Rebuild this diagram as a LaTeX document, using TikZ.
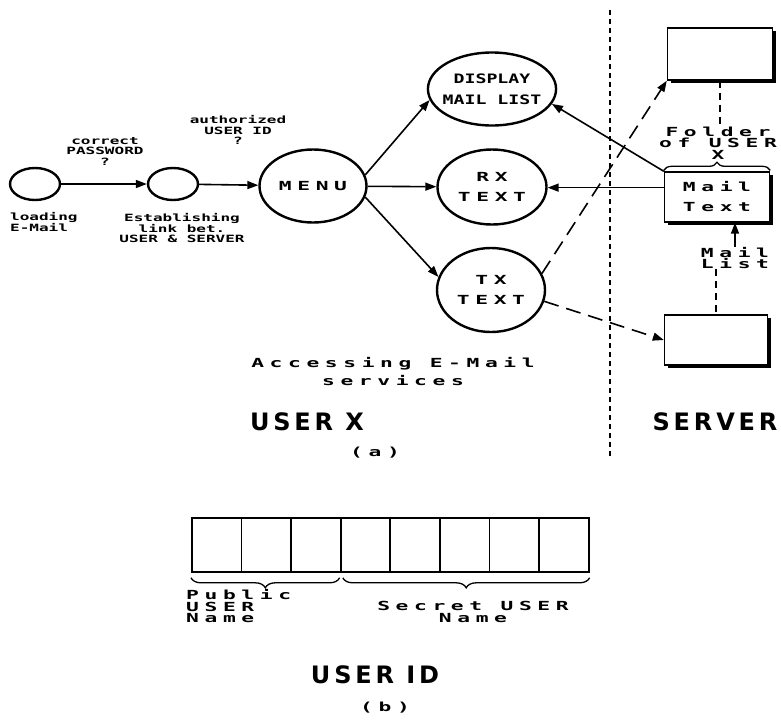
\documentclass[tikz,border=0pt]{standalone}
\usepackage{fontspec}
\usepackage{tikz}
\usetikzlibrary{arrows.meta, shapes.geometric, shadows, decorations.pathreplacing}
\newfontfamily\smallpix[FakeStretch=1.6]{DejaVu Sans Mono Bold}
\newfontfamily\widepix[FakeStretch=1.7, LetterSpace=45]{DejaVu Sans Mono Bold}
\newfontfamily\disppix[FakeStretch=1.4]{DejaVu Sans Mono Bold}
\newfontfamily\titlepix[LetterSpace=16]{DejaVu Sans Bold}
\newcommand{\notefont}{\smallpix\fontsize{10}{10.5}\selectfont}
\newcommand{\widefont}{\widepix\fontsize{12.5}{11.5}\selectfont}
\newcommand{\wideloose}{\widepix\fontsize{12.5}{20}\selectfont}
\newcommand{\dispfont}{\disppix\fontsize{13}{21}\selectfont}
\newcommand{\titlefont}{\titlepix\fontsize{24}{26}\selectfont}
\tikzstyle{state} = [ellipse, 
draw=black, 
line width=2.4pt, 
inner sep=-4pt, 
align=center, 
font=\wideloose]
\tikzstyle{mailbox} = [rectangle, 
draw=black, 
line width=1.4pt, 
fill=white, 
align=center, 
drop shadow={shadow xshift=3pt, shadow yshift=-3pt, fill=black, opacity=1}]
\tikzstyle{cell} = [rectangle, 
minimum width=49.6pt, 
minimum height=54pt, 
inner sep=0pt, 
draw=black, 
line width=1.8pt]
\tikzstyle{note} = [align=center, inner sep=0pt, font=\notefont]
\tikzstyle{widenote} = [align=center, inner sep=0pt, font=\widefont]
\tikzstyle{title} = [inner sep=0pt, font=\titlefont]
\tikzstyle{arrow} = [line width=1.6pt, -{Triangle[length=11pt, width=8pt]}]
\tikzstyle{dasharrow} = [arrow, dash pattern=on 15pt off 8pt]
\tikzstyle{linkline} = [line width=1.5pt, dash pattern=on 7pt off 5pt]
\tikzstyle{sepline} = [line width=1.8pt, dash pattern=on 5pt off 4pt]
\tikzstyle{bracetop} = [decorate, decoration={brace, amplitude=8pt}, line width=1.3pt]
\tikzstyle{bracebot} = [decorate, decoration={brace, amplitude=10pt}, line width=1.3pt]

\begin{document}
\begin{tikzpicture}[x=1pt, y=-1pt]
    \useasboundingbox (0,0) rectangle (781,721);

    % (a) lado del usuario
    \node (load) [state, minimum width=50pt, minimum height=32pt] at (35,184) {};
    \node (link) [state, minimum width=50pt, minimum height=32pt] at (173,184) {};
    \node (menu) [state, minimum width=107pt, minimum height=73pt] at (313,186) {MENU};
    \node (display) [state, minimum width=110pt, minimum height=73pt, font=\dispfont] at (492,89) {DISPLAY\\MAIL LIST};
    \node (rx) [state, minimum width=109pt, minimum height=75pt] at (492,187) {RX\\TEXT};
    \node (tx) [state, minimum width=108pt, minimum height=84pt] at (491,290) {TX\\TEXT};

    \node (pwdlbl) [note] at (105,151) {correct\\PASSWORD\\?};
    \node (authlbl) [note] at (238,130) {authorized\\USER ID\\?};
    \node (loadlbl) [note, align=left, anchor=west] at (10,222) {loading\\E-Mail};
    \node (linklbl) [note] at (182,228) {Establishing\\link bet.\\USER \& SERVER};
    \node (accesslbl) [widenote, font=\widepix\fontsize{12.5}{18}\selectfont] at (393,371) {Accessing E-Mail\\services};
    \node (userxlbl) [title] at (307,422) {USER X};
    \node (alabel) [widenote] at (375,453) {(a)};

    % lado del servidor
    \node (upbox) [mailbox, minimum width=105pt, minimum height=52pt] at (720,54) {};
    \node (mailtext) [mailbox, minimum width=105pt, minimum height=50pt, font=\wideloose] at (717,197) {Mail\\Text};
    \node (lowbox) [mailbox, minimum width=103pt, minimum height=50pt] at (716,340) {};
    \node (folderlbl) [widenote] at (718,143) {Folder\\of USER\\X};
    \node (maillist) [widenote] at (735,258) {Mail\\List};
    \node (serverlbl) [title] at (715,422) {SERVER};

    \coordinate (septop) at (610,10);
    \coordinate (sepbot) at (610,458);
    \draw [sepline] (septop) -- (sepbot);

    % conexiones
    \draw [arrow] (load) -- (link);
    \draw [arrow] (link) -- (menu);
    \draw [arrow] (menu.12) -- (display.190);
    \draw [arrow] (menu) -- (rx);
    \draw [arrow] (menu.-12) -- (tx.166);
    \draw [arrow] (mailtext.north west) -- (display.-14);
    \draw [arrow] (mailtext.170) -- (mailtext.170 -| rx.east);
    \draw [dasharrow] (tx.18) -- (upbox.south west);
    \draw [dasharrow] (tx.-12) -- (lowbox.west);
    \draw [arrow] (maillist.north) -- (maillist.north |- mailtext.south);
    \draw [linkline] (upbox.south) -- (upbox.south |- folderlbl.north);
    \draw [linkline] (lowbox.north |- maillist.south) -- (lowbox.north);
    \draw [bracetop] ([yshift=1pt]mailtext.north west) -- ([yshift=1pt]mailtext.north east);

    % (b) USER ID
    \foreach \i in {1,...,8}
        \node (cell\i) [cell, anchor=north west] at ({191+(\i-1)*49.6},517) {};
    \draw [bracebot] ([xshift=-2pt, yshift=-5pt]cell3.south east) -- ([yshift=-5pt]cell1.south west);
    \draw [bracebot] ([yshift=-5pt]cell8.south east) -- ([xshift=3pt, yshift=-5pt]cell4.south west);
    \node (publbl) [widenote, align=left, anchor=west] at (186,606) {Public\\USER\\Name};
    \node (secretlbl) [widenote] at (473,612) {Secret USER\\Name};
    \node (useridlbl) [title] at (375,675) {USER ID};
    \node (blabel) [widenote] at (385,708) {(b)};

\end{tikzpicture}
\end{document}
